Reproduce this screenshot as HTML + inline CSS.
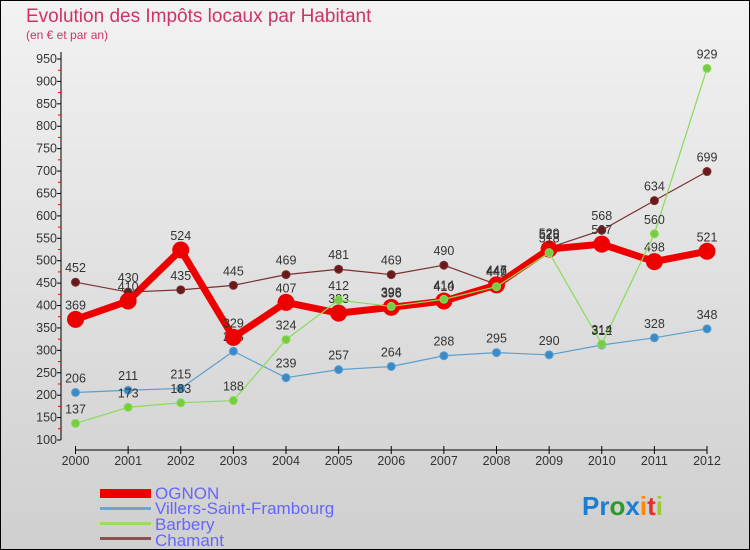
<!DOCTYPE html>
<html><head><meta charset="utf-8"><style>
body{margin:0;width:750px;height:550px;overflow:hidden;font-family:"Liberation Sans",sans-serif}
svg{display:block}
</style></head><body>
<svg id="c" width="750" height="550" xmlns="http://www.w3.org/2000/svg" font-family="'Liberation Sans',sans-serif">
<defs><linearGradient id="bg" x1="0" y1="0" x2="0" y2="1"><stop offset="0" stop-color="#f2f2f2"/><stop offset="1" stop-color="#cfcfcf"/></linearGradient></defs>
<rect x="0.5" y="0.5" width="749" height="549" fill="url(#bg)" stroke="#000"/>
<text x="26" y="22" font-size="19" fill="#cc3366">Evolution des Impôts locaux par Habitant</text>
<text x="26" y="39" font-size="12" fill="#cc3366">(en € et par an)</text>
<g id="axes"></g><g id="series"></g>
<g font-size="17" fill="#6666ff">
<rect x="100" y="489" width="51" height="9" fill="#e00"/>
<text x="155" y="499">OGNON</text>
<rect x="100" y="507" width="51" height="3" fill="#6fa3d0"/>
<text x="155" y="514">Villers-Saint-Frambourg</text>
<rect x="100" y="522" width="51" height="3" fill="#99dd66"/>
<text x="155" y="530">Barbery</text>
<rect x="100" y="537" width="51" height="3" fill="#8b5050"/>
<text x="155" y="546">Chamant</text>
</g>
<g font-size="26" font-weight="bold">
<text x="582" y="515"><tspan fill="#1a7fd4">Pr</tspan><tspan fill="#2a9a2a">o</tspan><tspan fill="#1a7fd4">x</tspan><tspan fill="#ff8800">i</tspan><tspan fill="#e03030">t</tspan><tspan fill="#99cc33">i</tspan></text>
</g>
</svg>
<script>
const years=[2000,2001,2002,2003,2004,2005,2006,2007,2008,2009,2010,2011,2012];
const yTicks=[100,150,200,250,300,350,400,450,500,550,600,650,700,750,800,850,900,950];
const ognon=[369,410,524,329,407,383,396,410,446,526,537,498,521];
const villers=[206,211,215,298,239,257,264,288,295,290,312,328,348];
const barbery=[137,173,183,188,324,412,398,414,442,518,314,560,929];
const chamant=[452,430,435,445,469,481,469,490,447,529,568,634,699];
const NS="http://www.w3.org/2000/svg";
const X=i=>75.5+i*(707-75.5)/(years.length-1);
const Y=v=>440-(v-100)*(440-59)/850;
function mk(tag,attrs,parent){const e=document.createElementNS(NS,tag);for(const k in attrs)e.setAttribute(k,attrs[k]);parent.appendChild(e);return e;}
const ax=document.getElementById('axes');
const yl=mk('line',{x1:61,y1:52,x2:61,y2:440,stroke:'#000'},ax);


yTicks.forEach(v=>{
 mk('line',{x1:57,y1:Y(v),x2:61,y2:Y(v),stroke:'#000'},ax);
 if(v<950) mk('line',{x1:58,y1:Y(v+25),x2:61,y2:Y(v+25),stroke:'#e00'},ax);
 const t=mk('text',{x:57,y:Y(v)+4,'text-anchor':'end','font-size':12.5,fill:'#333'},ax);
 t.textContent=v;
 
 
});
const xl=mk('line',{x1:75,y1:450,x2:707,y2:450,stroke:'#000'},ax);


years.forEach((yr,i)=>{
 mk('line',{x1:X(i),y1:446,x2:X(i),y2:454,stroke:'#000'},ax);
 const t=mk('text',{x:X(i),y:465,'text-anchor':'middle','font-size':12.5,fill:'#333'},ax);
 t.textContent=yr;
 
 
});
const sg=document.getElementById('series');
function series(name,data,color,dot,w,r){
 const g=mk('g',{},sg);
 
 
 const p=mk('polyline',{points:data.map((v,i)=>X(i)+','+Y(v)).join(' '),fill:'none',stroke:color,'stroke-width':w,'stroke-linejoin':'round'},g);
 
 
 data.forEach((v,i)=>{
  const c=mk('circle',{cx:X(i),cy:Y(v),r:r,fill:dot,stroke:color==dot?'none':color,'stroke-width':1},g);
  
  
  const t=mk('text',{x:X(i),y:Y(v)-10,'text-anchor':'middle','font-size':12.5,fill:'#333'},g);
  t.textContent=v;
  
  
 });
}
series('chamant',chamant,'#7a3030','#6a1a1a',1.2,4);
series('villers',villers,'#5a9fd0','#3a8ac8',1.2,4);
series('ognon',ognon,'#ee0000','#ee0000',7,8.5);
series('barbery',barbery,'#88dd55','#77cc44',1.2,4);
</script>
</body></html>
